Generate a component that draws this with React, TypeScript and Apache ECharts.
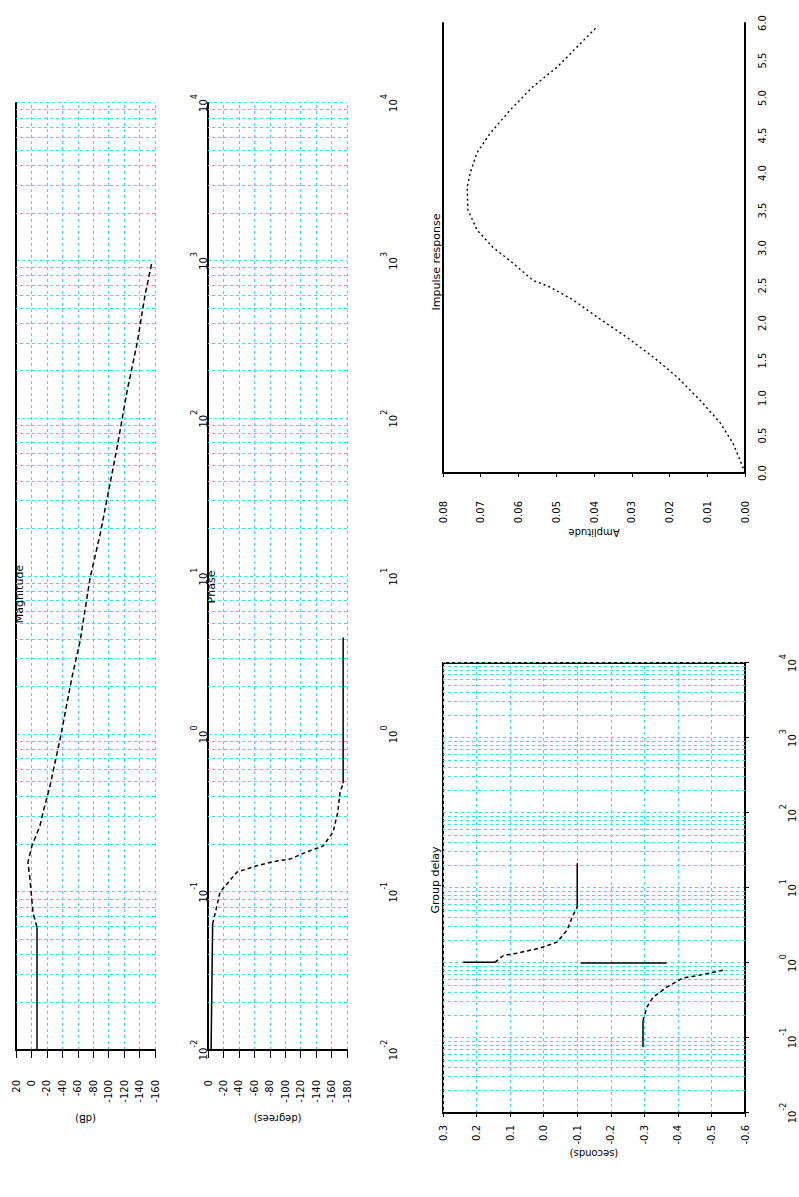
import React, { useEffect, useRef } from "react";
import * as echarts from "echarts";

// ---------- data ----------
// Bode magnitude: [frequency, dB]
const magFlat = [[0.01, -7.2], [0.06, -7.2]];
const magCurve = [
  [0.06, -7.2], [0.074, -2], [0.121, 1.9], [0.155, 4.5], [0.197, -0.7], [0.263, -11],
  [0.32, -15], [0.47, -24], [0.93, -37], [2.3, -52.5], [3.9, -63], [9.8, -76],
  [18.6, -89], [66, -111], [151, -124], [303, -137], [603, -147], [977, -156],
];
// Bode phase: [frequency, degrees]
const phaseFlatLow = [[0.01, -4], [0.063, -6]];
const phaseCurve = [
  [0.063, -6], [0.076, -10], [0.1, -15.5], [0.134, -37.6], [0.147, -63], [0.156, -84],
  [0.162, -106], [0.18, -128], [0.196, -149], [0.24, -162], [0.32, -168], [0.43, -171], [0.49, -175],
];
const phaseFlatHigh = [[0.49, -175], [4.1, -175]];
// Group delay panel: [frequency, value]
const gdLeftFlat = [[0.076, -0.296], [0.17, -0.296]];
const gdLeftCurve = [[0.17, -0.296], [0.26, -0.308], [0.35, -0.326], [0.48, -0.368], [0.63, -0.415], [0.69, -0.466], [0.81, -0.54]];
const gdJump = [[1.0, -0.11], [1.0, -0.366]];
const gdRightTop = [[1.02, 0.24], [1.02, 0.145]];
const gdRightCurve = [[1.02, 0.145], [1.26, 0.12], [1.35, 0.08], [1.58, 0.011], [1.9, -0.04], [2.75, -0.07], [4.1, -0.085], [5.6, -0.1]];
const gdRightFlat = [[5.6, -0.1], [21.4, -0.1]];
// Impulse response: [time, amplitude]
const impulse = [
  [0, 0], [0.07, 0.0005], [0.4, 0.0032], [0.67, 0.0066], [0.97, 0.0119], [1.28, 0.018],
  [1.55, 0.0244], [1.81, 0.0313], [2.08, 0.0392], [2.31, 0.0456], [2.48, 0.0517], [2.57, 0.0562],
  [2.8, 0.0615], [3.01, 0.0668], [3.24, 0.071], [3.51, 0.0734], [3.81, 0.0736], [4.0, 0.0728],
  [4.27, 0.071], [4.53, 0.0675], [4.84, 0.0622], [5.15, 0.0562], [5.41, 0.0498], [5.68, 0.0445], [5.95, 0.0392],
];
// minor log grid multipliers and decades
const minorMult = [2, 3, 4, 5, 6, 7, 8, 9];
const decades = [-2, -1, 0, 1, 2, 3];

const titles = ["Magnitude", "Phase", "Group delay", "Impulse response"];

const GRID = "#38e4d4";
const FONT = "DejaVu Sans";

const minorLines = () => {
  const out: any[] = [];
  decades.forEach((d) => minorMult.forEach((m) => out.push({ xAxis: m * Math.pow(10, d) })));
  return out;
};

const minorMark = {
  silent: true,
  symbol: ["none", "none"],
  label: { show: false },
  emphasis: { disabled: true },
  lineStyle: { color: GRID, type: [3, 3], width: 1 },
  data: minorLines(),
};

const logLabel = (v: number) => `{b|10}{e|${Math.round(Math.log10(v))}}`;
const logRich = {
  b: { fontSize: 10, fontFamily: FONT, color: "#000", verticalAlign: "bottom", lineHeight: 18 },
  e: { fontSize: 8, fontFamily: FONT, color: "#000", verticalAlign: "top", lineHeight: 18 },
};

const gridSplit = { show: true, lineStyle: { color: GRID, type: [3, 3], width: 1 } };

const topLine = (gridIndex: number) => ({
  type: "value", gridIndex, position: "top", min: 0, max: 1,
  axisLine: { show: true, onZero: false, lineStyle: { color: "#000", width: 2 } },
  axisTick: { show: false }, axisLabel: { show: false }, splitLine: { show: false },
});

const freqAxis = (gridIndex: number, margin: number, showLine: boolean) => ({
  type: "log", logBase: 10, gridIndex, min: 0.01, max: 10000, splitNumber: 6,
  axisLine: { show: showLine, onZero: false, lineStyle: { color: "#000", width: 2 } },
  axisTick: { show: showLine, length: 4, lineStyle: { color: "#000" } },
  axisLabel: { margin, formatter: logLabel, rich: logRich },
  splitLine: gridSplit,
  minorTick: { show: false },
});

const line = (data: number[][], x: number, y: number, dashed: any, extra: any = {}) => ({
  type: "line", xAxisIndex: x, yAxisIndex: y, data, showSymbol: false, symbol: "none",
  silent: true, z: 5,
  lineStyle: { color: "#000", width: 1.5, type: dashed ? dashed : "solid" },
  ...extra,
});

export default function App() {
  const ref = useRef<HTMLDivElement>(null);
  useEffect(() => {
    if (!ref.current) return;
    const chart = echarts.init(ref.current, undefined, { renderer: "svg", width: 1197, height: 799 });
    const yLabel = (pad: number, margin: number, fmt: (v: number) => string) => ({
      margin, fontSize: 10, fontFamily: FONT, color: "#000", padding: [pad, 0, 0, 0], formatter: fmt,
    });
    const nameStyle = { fontSize: 10, fontFamily: FONT, color: "#000" };
    const titleStyle = (text: string) => ({ text, align: "center", verticalAlign: "middle", font: `11px '${FONT}'`, fill: "#000" });
    const option: any = {
      animation: false,
      backgroundColor: "#fff",
      textStyle: { fontFamily: FONT, fontSize: 10, color: "#000" },
      grid: [
        { left: 147, top: 16, width: 947, height: 139 },
        { left: 147, top: 208, width: 947, height: 139 },
        { left: 84, top: 443, width: 450, height: 302, show: true, borderColor: "#000", borderWidth: 2 },
        { left: 724, top: 443, width: 450, height: 302 },
      ],
      xAxis: [
        freqAxis(0, 35, false),
        topLine(0),
        freqAxis(1, 33, false),
        topLine(1),
        freqAxis(2, 34, true),
        {
          type: "value", gridIndex: 3, min: 0, max: 6, interval: 0.5,
          axisLine: { show: true, onZero: false, lineStyle: { color: "#000", width: 2 } },
          axisTick: { show: false },
          axisLabel: { margin: 12, fontSize: 10, fontFamily: FONT, color: "#000", formatter: (v: number) => v.toFixed(1) },
          splitLine: { show: false },
        },
        topLine(3),
      ],
      yAxis: [
        {
          type: "value", gridIndex: 0, min: -160, max: 20, interval: 20,
          name: "(dB)", nameLocation: "middle", nameGap: 54, nameRotate: 90, nameTextStyle: nameStyle,
          axisLine: { show: true, onZero: false, lineStyle: { color: "#000", width: 2 } },
          axisTick: { show: true, length: 8, lineStyle: { color: "#000" } },
          axisLabel: yLabel(36, 30, (v) => String(v)),
          splitLine: gridSplit,
        },
        {
          type: "value", gridIndex: 1, min: -180, max: 0, interval: 20,
          name: "(degrees)", nameLocation: "middle", nameGap: 54, nameRotate: 90, nameTextStyle: nameStyle,
          axisLine: { show: true, onZero: false, lineStyle: { color: "#000", width: 2 } },
          axisTick: { show: true, length: 8, lineStyle: { color: "#000" } },
          axisLabel: yLabel(36, 30, (v) => String(v)),
          splitLine: gridSplit,
        },
        {
          type: "value", gridIndex: 2, min: -0.6, max: 0.3, interval: 0.1,
          name: "(seconds)", nameLocation: "middle", nameGap: 28, nameRotate: 90, nameTextStyle: nameStyle,
          axisLine: { show: true, onZero: false, lineStyle: { color: "#000", width: 2 } },
          axisTick: { show: true, length: 4, lineStyle: { color: "#000" } },
          axisLabel: yLabel(40, 12, (v) => (Math.abs(v) < 1e-9 ? 0 : v).toFixed(1)),
          splitLine: gridSplit,
        },
        {
          type: "value", gridIndex: 3, min: 0, max: 0.08, interval: 0.01,
          name: "Amplitude", nameLocation: "middle", nameGap: 30, nameRotate: 90, nameTextStyle: nameStyle,
          axisLine: { show: true, onZero: false, lineStyle: { color: "#000", width: 2 } },
          axisTick: { show: true, length: 4, lineStyle: { color: "#000" } },
          axisLabel: yLabel(40, 28, (v) => v.toFixed(2)),
          splitLine: { show: false },
        },
      ],
      series: [
        line(magFlat, 0, 0, null),
        line(magCurve, 0, 0, [5, 3], { markLine: minorMark }),
        line(phaseFlatLow, 2, 1, null),
        line(phaseCurve, 2, 1, [4, 3], { markLine: minorMark }),
        line(phaseFlatHigh, 2, 1, null),
        line(gdLeftFlat, 4, 2, null, { markLine: minorMark }),
        line(gdLeftCurve, 4, 2, [4, 3]),
        line(gdJump, 4, 2, null),
        line(gdRightTop, 4, 2, null),
        line(gdRightCurve, 4, 2, [4, 3]),
        line(gdRightFlat, 4, 2, null),
        line(impulse, 5, 3, [2, 3], { lineStyle: { color: "#000", width: 1.4, type: [2, 3] } }),
      ],
      graphic: [
        { type: "text", x: 603, y: 19, style: titleStyle(titles[0]), z: 10 },
        { type: "text", x: 610, y: 211, style: titleStyle(titles[1]), z: 10 },
        { type: "text", x: 317, y: 435, style: titleStyle(titles[2]), z: 10 },
        { type: "text", x: 935, y: 436, style: titleStyle(titles[3]), z: 10 },
      ],
    };
    chart.setOption(option);
    return () => chart.dispose();
  }, []);

  return (
    <div style={{ position: "absolute", left: 0, top: 0, width: 799, height: 1197, overflow: "hidden", background: "#fff" }}>
      <div
        ref={ref}
        style={{
          position: "absolute", left: 0, top: 0, width: 1197, height: 799,
          transformOrigin: "0 0", transform: "translateY(1197px) rotate(-90deg)",
        }}
      />
    </div>
  );
}
